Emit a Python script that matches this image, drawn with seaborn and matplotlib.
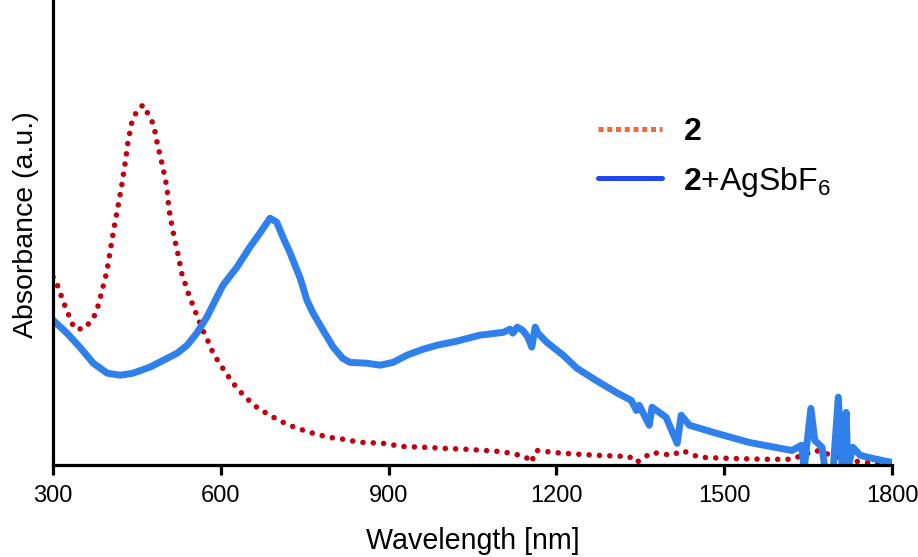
import matplotlib
matplotlib.use("Agg")
import matplotlib.pyplot as plt
from matplotlib.lines import Line2D
import seaborn as sns
import pandas as pd

# ---- data ----
red_wl = [300, 304, 309, 323, 338, 354, 366, 377, 387, 396, 409, 416, 423, 429, 434, 441,
          450, 461, 471, 480, 487, 496, 504, 507, 514, 523, 530, 543, 557, 571, 580, 587,
          598, 609, 620, 630, 645, 657, 673, 688, 704, 720, 737, 754, 771, 789, 805, 821,
          838, 855, 889, 925, 964, 1004, 1039, 1093, 1121, 1146, 1155, 1164, 1211, 1271,
          1330, 1343, 1371, 1407, 1425, 1455, 1514, 1575, 1620, 1664, 1723, 1754, 1782, 1800]
red_abs = [0.468, 0.465, 0.443, 0.390, 0.340, 0.338, 0.355, 0.378, 0.430, 0.480, 0.590, 0.643,
           0.698, 0.753, 0.805, 0.855, 0.883, 0.898, 0.873, 0.848, 0.798, 0.745, 0.690, 0.640,
           0.585, 0.528, 0.478, 0.423, 0.373, 0.325, 0.300, 0.275, 0.253, 0.228, 0.208, 0.188,
           0.168, 0.150, 0.135, 0.123, 0.110, 0.100, 0.090, 0.083, 0.075, 0.070, 0.065, 0.063,
           0.058, 0.055, 0.053, 0.045, 0.043, 0.040, 0.038, 0.033, 0.028, 0.018, 0.005, 0.035,
           0.028, 0.023, 0.020, 0.005, 0.030, 0.023, 0.035, 0.018, 0.015, 0.013, 0.013, 0.035,
           0.010, 0.005, 0.003, 0.003]

blue_wl = [300, 302, 325, 348, 372, 397, 420, 443, 473, 497, 522, 540, 557, 575, 593, 604,
           629, 652, 670, 688, 700, 711, 724, 742, 754, 765, 783, 801, 818, 831, 861, 885,
           908, 933, 962, 987, 1022, 1063, 1105, 1117, 1122, 1130, 1140, 1149, 1156, 1162,
           1167, 1183, 1212, 1237, 1271, 1307, 1334, 1343, 1348, 1366, 1371, 1396, 1416, 1423,
           1438, 1486, 1545, 1621, 1638, 1643, 1655, 1662, 1675, 1680, 1695, 1704, 1711, 1718,
           1721, 1730, 1743, 1766, 1800]
blue_abs = [0.360, 0.358, 0.328, 0.293, 0.253, 0.228, 0.223, 0.228, 0.243, 0.260, 0.278, 0.298,
            0.328, 0.368, 0.418, 0.448, 0.493, 0.543, 0.578, 0.615, 0.605, 0.568, 0.528, 0.465,
            0.410, 0.378, 0.335, 0.293, 0.265, 0.255, 0.253, 0.248, 0.255, 0.273, 0.288, 0.298,
            0.308, 0.323, 0.330, 0.338, 0.328, 0.343, 0.335, 0.318, 0.293, 0.343, 0.328, 0.305,
            0.273, 0.240, 0.210, 0.180, 0.160, 0.135, 0.148, 0.098, 0.143, 0.118, 0.053, 0.123,
            0.098, 0.078, 0.055, 0.035, 0.048, -0.010, 0.140, 0.060, 0.043, -0.010, -0.010, 0.168,
            -0.010, 0.130, -0.010, 0.043, 0.023, 0.015, 0.005]

x_ticks = [300, 600, 900, 1200, 1500, 1800]
legend_labels = [r"$\mathbf{2}$", r"$\mathbf{2}$+AgSbF$_6$"]

# ---- styling ----
sns.set_style("ticks")
plt.rcParams["font.family"] = ["Liberation Sans", "DejaVu Sans"]
plt.rcParams["mathtext.fontset"] = "custom"
plt.rcParams["mathtext.rm"] = "Liberation Sans"
plt.rcParams["mathtext.bf"] = "Liberation Sans:bold"
plt.rcParams["mathtext.it"] = "Liberation Sans:italic"
plt.rcParams["text.color"] = "black"
plt.rcParams["axes.labelcolor"] = "black"
plt.rcParams["xtick.color"] = "black"
plt.rcParams["xtick.labelcolor"] = "black"

fig = plt.figure(figsize=(9.18, 5.57), dpi=100)
ax = fig.add_axes([53 / 918, (557 - 464.5) / 557, (892 - 53) / 918, 464.5 / 557])

red_df = pd.DataFrame({"wl": red_wl, "abs": red_abs})
blue_df = pd.DataFrame({"wl": blue_wl, "abs": blue_abs})

sns.lineplot(data=red_df, x="wl", y="abs", ax=ax, sort=False, estimator=None, color="#C00010")
sns.lineplot(data=blue_df, x="wl", y="abs", ax=ax, sort=False, estimator=None, color="#2F80EA")

red_line, blue_line = ax.lines[0], ax.lines[1]
red_line.set_linewidth(4.0)
red_line.set_linestyle((0, (0.01, 1.85)))
red_line.set_dash_capstyle("round")
blue_line.set_linewidth(5.0)
blue_line.set_solid_capstyle("round")
blue_line.set_solid_joinstyle("round")

ax.set_xlim(300, 1800)
ax.set_ylim(0, 1.16)
ax.set_xticks(x_ticks)
ax.set_xticklabels([str(t) for t in x_ticks])
ax.set_yticks([])
ax.tick_params(axis="x", direction="out", length=7, width=2.3, labelsize=17, pad=8,
               colors="black")
for side in ["top", "right"]:
    ax.spines[side].set_visible(False)
for side in ["left", "bottom"]:
    ax.spines[side].set_linewidth(2.3)
    ax.spines[side].set_color("black")

ax.set_xlabel("Wavelength [nm]", fontsize=20.6, labelpad=14, color="black")
ax.set_ylabel("Absorbance (a.u.)", fontsize=20.5, color="black")
ax.yaxis.set_label_coords(-0.017, 0.516)

handles = [
    Line2D([], [], color="#F2673A", linewidth=3.6, linestyle=(0, (1.0, 0.75))),
    Line2D([], [], color="#2148F0", linewidth=3.6),
]
ax.legend(handles, legend_labels, loc="upper left", bbox_to_anchor=(0.615, 0.81),
          frameon=False, fontsize=23, handlelength=2.0, handletextpad=0.68,
          labelspacing=0.55)

fig.savefig("out.png", dpi=100)
